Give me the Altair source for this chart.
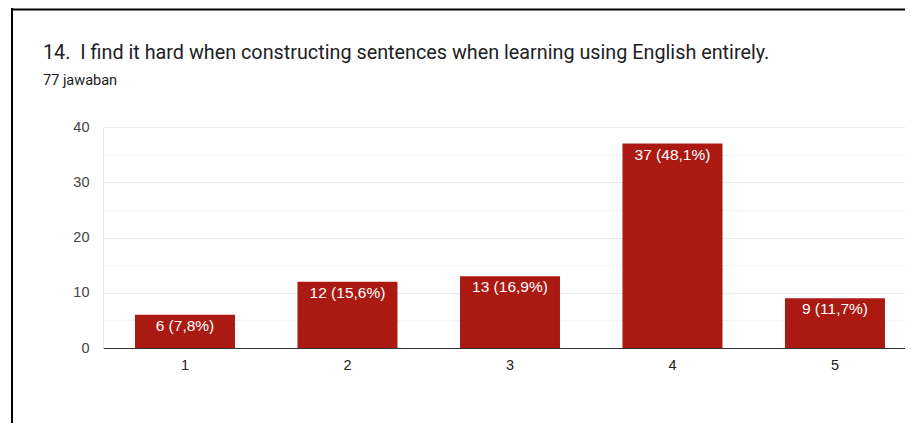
import altair as alt
import pandas as pd

# ---- data ----
options = ["1", "2", "3", "4", "5"]
counts = [6, 12, 13, 37, 9]
labels = ["6 (7,8%)", "12 (15,6%)", "13 (16,9%)", "37 (48,1%)", "9 (11,7%)"]
y_ticks = [0, 5, 10, 15, 20, 25, 30, 35, 40]
title_text = "14.\u00a0 I find it hard when constructing sentences when learning using English entirely."
subtitle_text = "77 jawaban"

df = pd.DataFrame({"option": options, "count": counts, "label": labels})

W, H = 802, 221
PL, PT, PR, PB = 95, 119, 0, 75
BAR = "#aa1a12"
AXFONT = "Liberation Sans"

x = alt.X(
    "option:N", sort=options, title=None,
    scale=alt.Scale(paddingInner=0.3846, paddingOuter=0.16, align=0.615),
    axis=alt.Axis(labelAngle=0, labelFont=AXFONT, labelFontSize=14.5,
                  labelColor="#222222", labelPadding=10, ticks=False,
                  domainColor="#333333", domainWidth=1, grid=False),
)
y = alt.Y(
    "count:Q", title=None,
    scale=alt.Scale(domain=[0, 40], nice=False),
    axis=alt.Axis(values=y_ticks,
                  labelExpr="datum.value % 10 === 0 ? datum.label : ''",
                  ticks=False, domainColor="#e8e8e8", labelPadding=14,
                  labelFont=AXFONT, labelFontSize=14.5, labelColor="#444444",
                  gridColor={"condition": {"test": "datum.value % 10 === 0", "value": "#ebebeb"},
                             "value": "#f3f3f3"}),
)

base = alt.Chart(df)
bars = base.mark_bar(color=BAR).encode(x=x, y=y)
text = base.mark_text(baseline="top", dy=4, color="white", font=AXFONT,
                      fontSize=15.5).encode(x=x, y=y, text="label:N")

frame_df = pd.DataFrame({"k": [0]})
left_line = alt.Chart(frame_df).mark_rule(color="black", strokeWidth=2).encode(
    x=alt.value(-91), y=alt.value(-PT), y2=alt.value(H + PB))
top_line = alt.Chart(frame_df).mark_rule(color="black", strokeWidth=2).encode(
    x=alt.value(-92), x2=alt.value(W), y=alt.value(-PT + 1.5))

chart = alt.layer(bars, text, left_line, top_line).properties(
    width=W, height=H,
    autosize=alt.AutoSizeParams(type="none"),
    padding={"left": PL, "top": PT, "right": PR, "bottom": PB},
    title=alt.Title(title_text, subtitle=subtitle_text, anchor="start",
                    frame="group", dx=-60, offset=-80,
                    font="Roboto", fontSize=19.8, fontWeight="normal", color="#202124",
                    subtitleFont="Roboto", subtitleFontSize=14.5,
                    subtitleColor="#202124", subtitlePadding=11),
).configure_view(stroke=None)

chart.save("out.html", embed_options={"renderer": "svg", "actions": False})
